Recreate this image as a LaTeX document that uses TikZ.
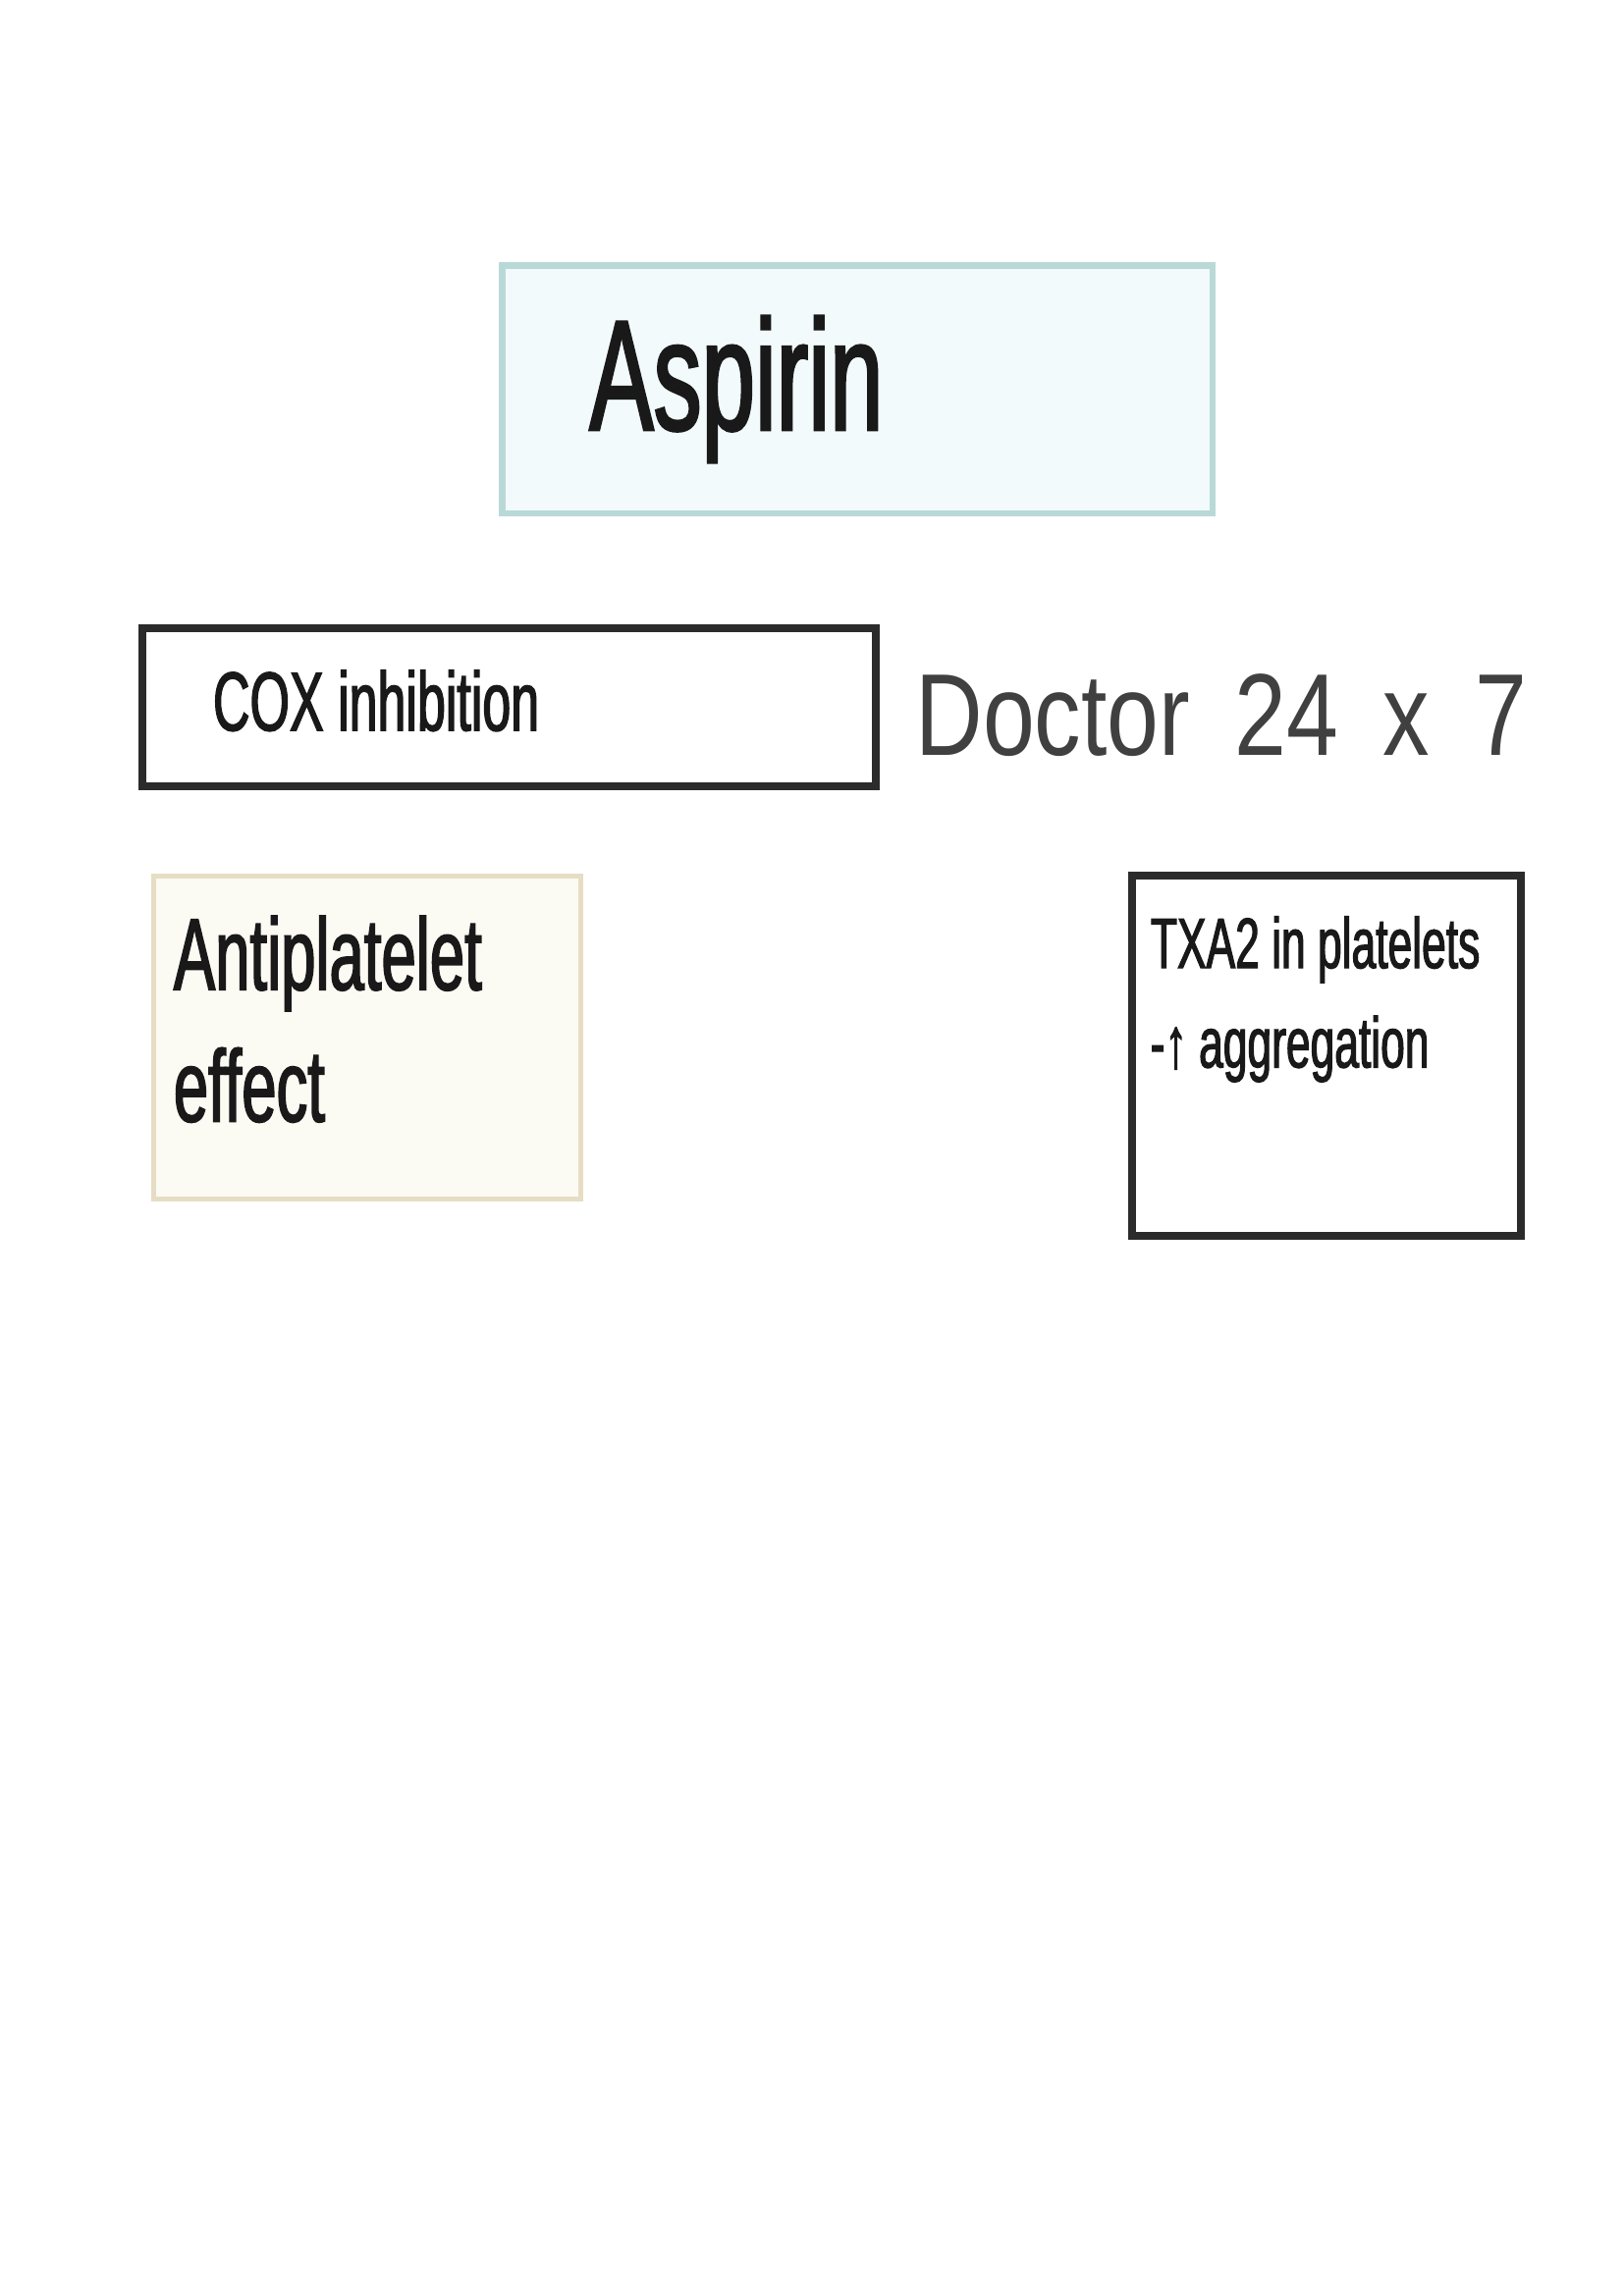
\documentclass[tikz,border=0pt]{standalone}
\usepackage{fontspec}
\setmainfont{Liberation Sans}
\newfontfamily\narrowfont[FakeStretch=0.61,FakeBold=1.6]{Liberation Sans}
\newfontfamily\handfont[FakeStretch=0.8]{Liberation Sans}
\usepackage{xcolor}
\usepackage{tikz}
\usetikzlibrary{positioning}
\definecolor{tealedge}{HTML}{B9D9D8}
\definecolor{tealfill}{HTML}{F2FAFB}
\definecolor{tanedge}{HTML}{E6DDC4}
\definecolor{tanfill}{HTML}{FBFAF3}
\definecolor{darkedge}{HTML}{2B2B2B}

\begin{document}
\begin{tikzpicture}[
    drugbox/.style={
        rectangle, draw=tealedge, fill=tealfill, line width=2.4pt,
        minimum width=9.19cm, minimum height=3.21cm
    },
    plainbox/.style={
        rectangle, draw=darkedge, fill=white, line width=3pt
    },
    effbox/.style={
        rectangle, draw=tanedge, fill=tanfill, line width=1.8pt,
        minimum width=5.53cm, minimum height=4.18cm
    },
    txt/.style={inner sep=0pt, anchor=base west, align=left, text=black!90}
]

% ---------------- Page ----------------
\useasboundingbox (0,0) rectangle (21,29.715);

% ---------------- Title ----------------
\node[drugbox] (drug) at (11.095,24.675) {};
\node[txt, font=\narrowfont\fontsize{58}{60}\selectfont] (drugtxt) at (7.62,24.15) {Aspirin};

% ---------------- Mechanism row ----------------
\node[plainbox, minimum width=9.49cm, minimum height=2.04cm] (cox) at (6.585,20.56) {};
\node[txt, font=\narrowfont\fontsize{30.8}{32}\selectfont] (coxtxt) at (2.75,20.26) {COX inhibition};

\node[txt, text=black!75, font=\handfont\fontsize{42.9}{44}\selectfont] (tag) at (11.84,19.94)
    {Doctor\hspace{0.58cm}24\hspace{0.58cm}x\hspace{0.58cm}7};

% ---------------- Effect row ----------------
\node[effbox] (eff) at (4.755,16.29) {};
\node[txt, font=\narrowfont\fontsize{37.6}{48.5}\selectfont] (efftxt) at (2.24,15.20)
    {Antiplatelet\\effect};

\node[plainbox, minimum width=5.03cm, minimum height=4.66cm] (txa) at (17.165,16.05) {};
\node[txt, font=\narrowfont\fontsize{26.3}{36.6}\selectfont] (txatxt) at (14.88,15.90)
    {TXA2 in platelets\\-↑ aggregation};

\end{tikzpicture}
\end{document}
